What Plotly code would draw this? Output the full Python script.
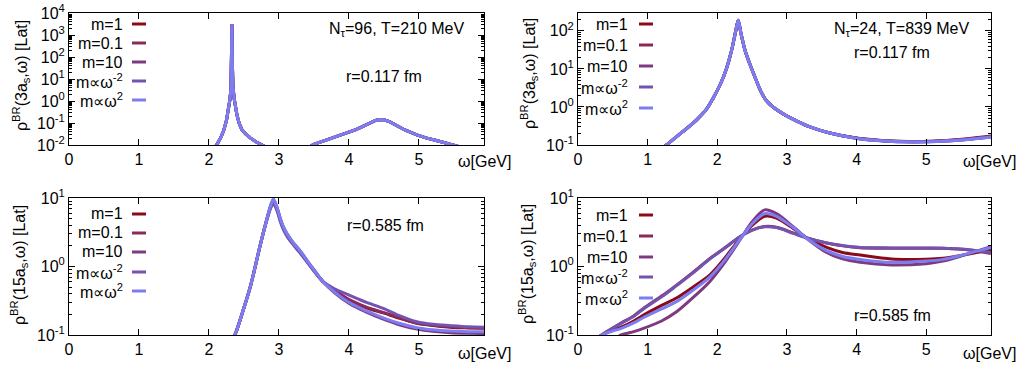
import plotly.graph_objects as go

W, H = 1019, 371

# ---------------- data ----------------
series_names = ["m=1", "m=0.1", "m=10", "m\u221d\u03c9<sup>-2</sup>", "m\u221d\u03c9<sup>2</sup>"]
series_colors = ["#8b0a1a", "#8b2a5a", "#7d3a80", "#7352b0", "#7b7df0"]

# top-left: N_tau=96, T=210 MeV, r=0.117 fm (all five curves coincide)
tl_omega = [2.00, 2.05, 2.11, 2.17, 2.21, 2.25, 2.28, 2.30, 2.315, 2.322, 2.328, 2.334,
            2.342, 2.36, 2.38, 2.40, 2.43, 2.47, 2.52, 2.59, 2.67, 2.75, 2.85, 3.00,
            3.30, 3.40, 3.49, 3.60, 3.70, 3.85, 3.97, 4.10, 4.20, 4.30, 4.38, 4.44,
            4.50, 4.58, 4.68, 4.80, 4.97, 5.10, 5.25, 5.47, 5.60, 5.93]
tl_rho = [0.004, 0.006, 0.01, 0.022, 0.045, 0.13, 0.4, 1.2, 4.0, 60, 3000, 60,
          5.0, 1.3, 0.5, 0.23, 0.1, 0.05, 0.033, 0.021, 0.014, 0.0105, 0.007, 0.004,
          0.004, 0.007, 0.0105, 0.014, 0.018, 0.025, 0.034, 0.05, 0.07, 0.1, 0.13, 0.145,
          0.14, 0.115, 0.075, 0.048, 0.029, 0.021, 0.016, 0.0105, 0.008, 0.005]

# top-right: N_tau=24, T=839 MeV, r=0.117 fm
tr_omega = [1.00, 1.27, 1.50, 1.70, 1.85, 1.94, 2.05, 2.13, 2.20, 2.26, 2.30, 2.34,
            2.40, 2.47, 2.55, 2.62, 2.70, 2.80, 2.97, 3.15, 3.33, 3.60, 4.00, 4.40,
            4.76, 5.10, 5.48, 5.93]
tr_m1 = [0.04, 0.10, 0.22, 0.45, 0.90, 1.7, 4.2, 10, 28, 90, 190, 85,
         30, 13, 5.5, 2.7, 1.5, 1.0, 0.62, 0.42, 0.30, 0.21, 0.152, 0.130,
         0.123, 0.126, 0.139, 0.172]
tr_m01 = [0.04, 0.10, 0.22, 0.45, 0.90, 1.7, 4.2, 10, 28, 90, 190, 85,
          30, 13, 5.5, 2.7, 1.5, 1.0, 0.62, 0.42, 0.30, 0.21, 0.151, 0.129,
          0.122, 0.125, 0.137, 0.168]
tr_m10 = [0.04, 0.10, 0.22, 0.45, 0.90, 1.7, 4.2, 10, 28, 90, 190, 85,
          30, 13, 5.5, 2.7, 1.5, 1.0, 0.62, 0.42, 0.30, 0.21, 0.150, 0.128,
          0.121, 0.124, 0.136, 0.166]
tr_mwm2 = [0.04, 0.10, 0.22, 0.45, 0.90, 1.7, 4.2, 10, 28, 90, 190, 85,
           30, 13, 5.5, 2.7, 1.5, 1.0, 0.62, 0.42, 0.30, 0.21, 0.150, 0.128,
           0.121, 0.123, 0.134, 0.162]
tr_mw2 = [0.04, 0.10, 0.22, 0.45, 0.90, 1.7, 4.2, 10, 28, 90, 190, 85,
          30, 13, 5.5, 2.7, 1.5, 1.0, 0.62, 0.42, 0.30, 0.21, 0.149, 0.127,
          0.120, 0.122, 0.133, 0.160]

# bottom-left: N_tau=96, T=210 MeV, r=0.585 fm
bl_omega = [2.25, 2.37, 2.50, 2.60, 2.73, 2.82, 2.88, 2.92, 2.97, 3.02, 3.06, 3.12,
            3.20, 3.30, 3.45, 3.63, 3.80, 4.01, 4.25, 4.49, 4.73, 4.97, 5.20, 5.45,
            5.70, 5.93]
bl_m1 = [0.06, 0.10, 0.25, 0.55, 2.0, 4.6, 7.4, 9.0, 7.1, 4.8, 3.7, 2.85,
         2.2, 1.65, 1.02, 0.60, 0.44, 0.32, 0.25, 0.21, 0.175, 0.148, 0.137, 0.130,
         0.127, 0.125]
bl_m01 = [0.06, 0.10, 0.25, 0.55, 2.0, 4.6, 7.4, 9.0, 7.1, 4.8, 3.7, 2.85,
          2.2, 1.65, 1.02, 0.60, 0.445, 0.325, 0.255, 0.213, 0.178, 0.150, 0.139, 0.132,
          0.129, 0.128]
bl_m10 = [0.06, 0.10, 0.25, 0.55, 2.0, 4.6, 7.7, 9.6, 7.4, 5.0, 3.85, 2.95,
          2.25, 1.7, 1.05, 0.60, 0.41, 0.285, 0.215, 0.170, 0.140, 0.122, 0.113, 0.108,
          0.106, 0.105]
bl_mwm2 = [0.06, 0.10, 0.25, 0.55, 2.0, 4.5, 7.0, 8.3, 6.6, 4.5, 3.5, 2.7,
           2.1, 1.58, 1.0, 0.60, 0.47, 0.38, 0.30, 0.245, 0.19, 0.156, 0.143, 0.137,
           0.132, 0.130]
bl_mw2 = [0.06, 0.10, 0.25, 0.55, 2.0, 4.6, 7.7, 9.6, 7.4, 5.0, 3.85, 2.95,
          2.25, 1.7, 1.05, 0.60, 0.42, 0.295, 0.225, 0.178, 0.147, 0.128, 0.119, 0.114,
          0.112, 0.112]

# bottom-right: N_tau=24, T=839 MeV, r=0.585 fm
br_omega = [0.20, 0.34, 0.45, 0.62, 0.80, 0.94, 1.20, 1.42, 1.65, 1.89, 2.10, 2.32,
            2.50, 2.68, 2.85, 3.09, 3.30, 3.57, 3.80, 4.05, 4.50, 5.00, 5.24, 5.50,
            5.70, 5.93]
br_m1 = [0.08, 0.10, 0.112, 0.13, 0.16, 0.195, 0.27, 0.35, 0.50, 0.75, 1.3, 2.5,
         4.0, 5.4, 5.1, 3.6, 2.55, 1.9, 1.6, 1.47, 1.29, 1.28, 1.32, 1.45,
         1.58, 1.75]
br_m01 = [0.075, 0.10, 0.118, 0.15, 0.19, 0.245, 0.37, 0.54, 0.82, 1.3, 1.85, 2.7,
          3.4, 3.85, 3.75, 3.1, 2.6, 2.2, 2.0, 1.88, 1.85, 1.85, 1.84, 1.78,
          1.70, 1.55]
br_m10 = [0.05, 0.065, 0.078, 0.10, 0.112, 0.125, 0.16, 0.22, 0.35, 0.60, 1.12, 2.4,
          4.5, 6.7, 5.9, 3.8, 2.5, 1.6, 1.3, 1.15, 1.05, 1.10, 1.20, 1.42,
          1.65, 1.95]
br_mwm2 = [0.074, 0.10, 0.117, 0.148, 0.188, 0.24, 0.36, 0.53, 0.80, 1.28, 1.83, 2.7,
           3.4, 3.8, 3.7, 3.05, 2.58, 2.2, 2.02, 1.90, 1.87, 1.86, 1.85, 1.80,
           1.72, 1.60]
br_mw2 = [0.08, 0.10, 0.11, 0.125, 0.15, 0.18, 0.24, 0.31, 0.45, 0.70, 1.22, 2.45,
          4.2, 5.9, 5.4, 3.7, 2.5, 1.7, 1.4, 1.27, 1.15, 1.20, 1.27, 1.45,
          1.65, 1.90]

x_ticks = [0, 1, 2, 3, 4, 5]

# ---------------- figure ----------------
FONT = "Liberation Sans, Arial, sans-serif"

def px_x(p):
    return p / W

def px_y(p):
    return 1 - p / H

panels = [
    ("x", "y", (69, 484), (13, 145), (-2, 4), tl_omega, [tl_rho] * 5, "linear"),
    ("x2", "y2", (578, 991), (13, 145), (-1, 2.47), tr_omega,
     [tr_m1, tr_m01, tr_m10, tr_mwm2, tr_mw2], "spline"),
    ("x3", "y3", (69, 484), (198, 335), (-1, 1), bl_omega,
     [bl_m1, bl_m01, bl_m10, bl_mwm2, bl_mw2], "spline"),
    ("x4", "y4", (578, 991), (198, 335), (-1, 1), br_omega,
     [br_m1, br_m01, br_m10, br_mwm2, br_mw2], "spline"),
]

fig = go.Figure()
layout = dict(
    width=W, height=H, margin=dict(l=0, r=0, t=0, b=0, autoexpand=False),
    paper_bgcolor="white", plot_bgcolor="white", showlegend=False,
    font=dict(family=FONT, size=16, color="black"),
)

for i, (xa, ya, xd, yd, yr, om, sers, shp) in enumerate(panels):
    for name, col, vals in zip(series_names, series_colors, sers):
        fig.add_trace(go.Scatter(
            x=om, y=vals, mode="lines", name=name, xaxis=xa, yaxis=ya,
            line=dict(color=col, width=3, shape=shp, smoothing=0.8 if shp == "spline" else None),
            hoverinfo="skip"))
    lo, hi = yr
    decades = list(range(int(lo), int(hi) + 1))
    xkey = "xaxis" if xa == "x" else "xaxis" + xa[1:]
    ykey = "yaxis" if ya == "y" else "yaxis" + ya[1:]
    layout[xkey] = dict(
        domain=[px_x(xd[0]), px_x(xd[1])], anchor=ya, range=[0, 5.93], automargin=False,
        tickmode="array", tickvals=x_ticks, ticktext=[str(v) for v in x_ticks],
        ticks="inside", ticklen=6, tickcolor="black", showline=True, linecolor="black",
        linewidth=1, mirror="ticks", showgrid=False, zeroline=False,
        tickfont=dict(size=16, family=FONT, color="black"))
    layout[ykey] = dict(
        domain=[px_y(yd[1]), px_y(yd[0])], anchor=xa, type="log", range=[lo, hi],
        automargin=False,
        tickmode="array", tickvals=[10 ** d for d in decades],
        ticktext=["10<sup>%d</sup>" % d for d in decades],
        ticks="inside", ticklen=6, tickcolor="black", showline=True, linecolor="black",
        linewidth=1, mirror="ticks", showgrid=False, zeroline=False,
        minor=dict(ticks="inside", ticklen=3, tickcolor="black", dtick="D1", showgrid=False),
        tickfont=dict(size=16, family=FONT, color="black"))

fig.update_layout(**layout)

ann = []
shapes = []

def text(x, y, t, xanchor="center", angle=0, size=16):
    ann.append(dict(x=px_x(x), y=px_y(y), xref="paper", yref="paper", text=t,
                    showarrow=False, xanchor=xanchor, yanchor="middle", textangle=angle,
                    font=dict(size=size, family=FONT, color="black")))

# legends (text right-aligned, sample line at right)
legend_cfg = [
    (125, (132, 146), [24, 43, 62, 81, 100]),
    (630, (639, 653), [24, 45, 66, 87, 108]),
    (125, (132, 146), [214, 233, 252, 272, 291]),
    (630, (639, 653), [215, 236, 257, 277, 298]),
]
for tx, (sx0, sx1), rows in legend_cfg:
    for name, col, ry in zip(series_names, series_colors, rows):
        text(tx, ry, name, xanchor="right")
        shapes.append(dict(type="line", xref="paper", yref="paper",
                           x0=px_x(sx0), x1=px_x(sx1), y0=px_y(ry), y1=px_y(ry),
                           line=dict(color=col, width=3)))

# y-axis titles
ytitle_3 = "\u03c1<sup>BR</sup>(3a<sub>s</sub>,\u03c9) [Lat]"
ytitle_15 = "\u03c1<sup>BR</sup>(15a<sub>s</sub>,\u03c9) [Lat]"
text(21, 76, ytitle_3, angle=-90)
text(529, 74, ytitle_3, angle=-90)
text(19, 265, ytitle_15, angle=-90)
text(527, 264, ytitle_15, angle=-90)

# x-axis titles
for (x, y) in [(456, 161), (961, 161), (456, 353), (961, 353)]:
    text(x, y, "\u03c9[GeV]", xanchor="left")

# panel labels
text(467, 30, "N<sub>\u03c4</sub>=96, T=210 MeV", xanchor="right")
text(384, 77, "r=0.117 fm")
text(972, 30, "N<sub>\u03c4</sub>=24, T=839 MeV", xanchor="right")
text(892, 52, "r=0.117 fm")
text(385, 225, "r=0.585 fm")
text(892, 315, "r=0.585 fm")

fig.update_layout(annotations=ann, shapes=shapes)
fig.write_html("out.html", config={"displayModeBar": False},
               post_script="document.body.style.margin='0';document.body.style.padding='0';")
